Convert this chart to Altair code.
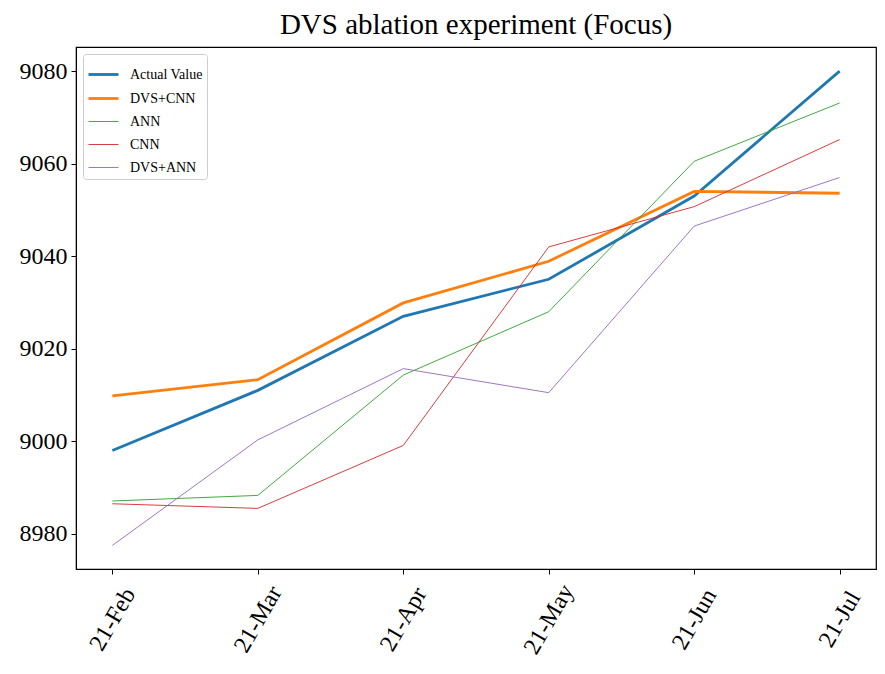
import altair as alt
import pandas as pd

months = ["21-Feb", "21-Mar", "21-Apr", "21-May", "21-Jun", "21-Jul"]
series_names = ["Actual Value", "DVS+CNN", "ANN", "CNN", "DVS+ANN"]
actual = [8998.0, 9011.0, 9027.0, 9035.0, 9053.0, 9080.0]
dvs_cnn = [9009.8, 9013.3, 9029.9, 9038.9, 9054.0, 9053.6]
ann = [8987.1, 8988.3, 9014.3, 9028.0, 9060.5, 9073.1]
cnn = [8986.5, 8985.5, 8999.1, 9042.0, 9050.7, 9065.2]
dvs_ann = [8977.5, 9000.3, 9015.7, 9010.5, 9046.5, 9057.0]
y_ticks = [8980, 9000, 9020, 9040, 9060, 9080]

colors = ["#1f77b4", "#ff7f0e", "#2ca02c", "#d62728", "#9467bd"]
widths = [2.8, 2.8, 0.9, 0.9, 0.9]

rows = []
for name, vals in zip(series_names, [actual, dvs_cnn, ann, cnn, dvs_ann]):
    for m, v in zip(months, vals):
        rows.append({"series": name, "month": m, "value": v})
df = pd.DataFrame(rows)

FONT = "Liberation Serif"

legend = alt.Legend(
    title=None,
    orient="top-left",
    offset=7,
    symbolType="stroke",
    symbolSize=900,
    labelFont=FONT,
    labelFontSize=14,
    labelColor="black",
    rowPadding=-9,
    padding=4,
    strokeColor="#cccccc",
    cornerRadius=3,
    fillColor="white",
    labelOffset=10,
)

chart = alt.Chart(df).mark_line().encode(
    x=alt.X(
        "month:N",
        sort=months,
        scale=alt.Scale(type="point", padding=0.25),
        axis=alt.Axis(
            title=None,
            labelAngle=300,
            labelAlign="center",
            labelBaseline="middle",
            labelPadding=45,
            labelFont=FONT,
            labelFontSize=24,
            labelColor="black",
            tickColor="black",
            tickSize=5,
            domainColor="black",
            grid=False,
        ),
    ),
    y=alt.Y(
        "value:Q",
        scale=alt.Scale(domain=[8972.4, 9085.2], nice=False, zero=False),
        axis=alt.Axis(
            title=None,
            values=y_ticks,
            format="d",
            labelFont=FONT,
            labelFontSize=24,
            labelColor="black",
            labelPadding=4,
            tickColor="black",
            tickSize=5,
            domainColor="black",
            grid=False,
        ),
    ),
    color=alt.Color(
        "series:N",
        sort=series_names,
        scale=alt.Scale(domain=series_names, range=colors),
        legend=legend,
    ),
    strokeWidth=alt.StrokeWidth(
        "series:N",
        sort=series_names,
        scale=alt.Scale(type="ordinal", domain=series_names, range=widths),
        legend=legend,
    ),
).properties(
    width=800,
    height=522,
    title=alt.Title(
        "DVS ablation experiment (Focus)",
        font=FONT,
        fontSize=29,
        fontWeight="normal",
        color="black",
        anchor="middle",
        offset=7,
    ),
    autosize=alt.AutoSizeParams(type="none"),
    padding={"left": 68, "top": 39, "right": 1, "bottom": 100},
).configure_view(
    stroke="black",
    strokeWidth=1.2,
)

chart.save("out.html", embed_options={"renderer": "svg", "actions": False})
